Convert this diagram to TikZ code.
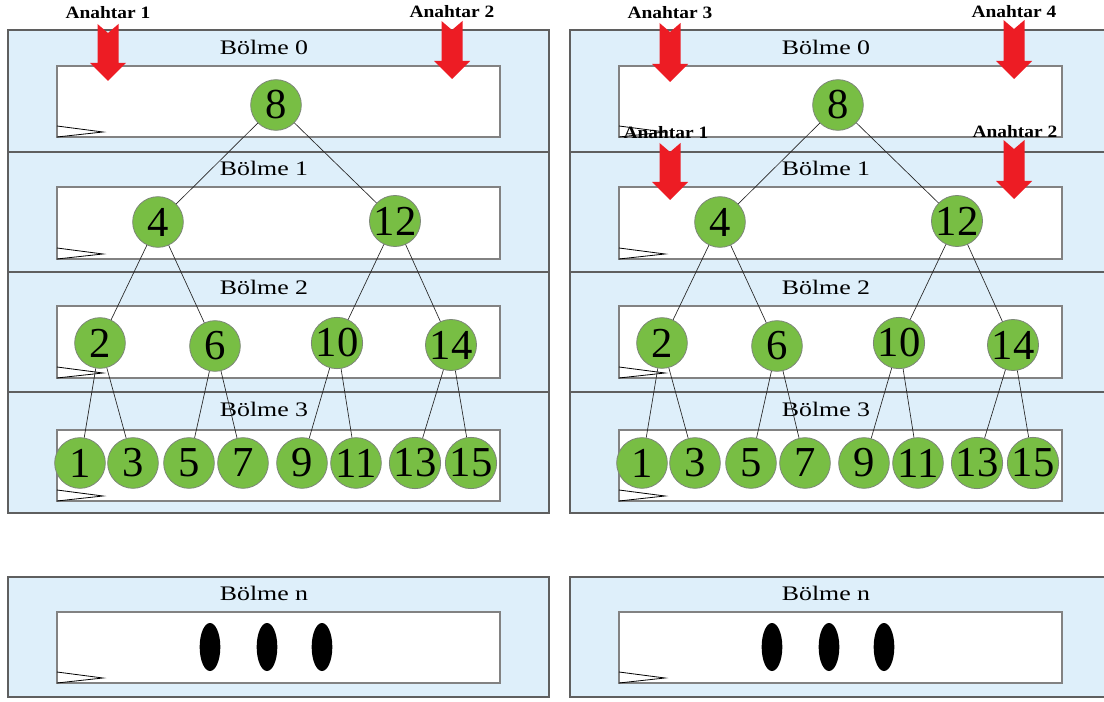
\documentclass[tikz,border=0pt]{standalone}
\usepackage{fontspec}
\setmainfont{Liberation Serif}
\newfontfamily\titlefont[FakeStretch=1.25]{Liberation Serif}
\newfontfamily\keyfont[FakeStretch=1.12]{Liberation Serif}
\usetikzlibrary{shapes.geometric}
\definecolor{panelfill}{RGB}{222,239,250}
\definecolor{panelborder}{RGB}{95,95,95}
\definecolor{innerborder}{RGB}{130,130,130}
\definecolor{numgreen}{RGB}{120,190,68}
\definecolor{numborder}{RGB}{125,135,120}
\definecolor{keyred}{RGB}{237,28,36}
\tikzset{
  panelbox/.style={draw=panelborder, fill=panelfill, line width=1pt},
  innerbox/.style={draw=innerborder, fill=white, line width=0.9pt},
  num/.style={circle, draw=numborder, fill=numgreen, line width=0.6pt, minimum size=38pt, inner sep=0pt, font=\fontsize{32}{34}\selectfont},
  titletext/.style={font=\titlefont\fontsize{15.5}{17}\selectfont, inner sep=0pt},
  keylabel/.style={font=\keyfont\bfseries\fontsize{13}{15}\selectfont, inner sep=0pt},
  edge/.style={draw=black!85, line width=0.5pt},
  marker/.style={draw=black, line width=0.6pt},
  dotmark/.style={ellipse, fill=black, minimum width=15.5pt, minimum height=36pt, inner sep=0pt},
}
\newcommand{\cornermark}[1]{\draw[marker] (57,{#1-11}) -- (103,{#1-5}) -- (57,#1);}
\newcommand{\keyarrow}[3]{\fill[keyred] ({#1-10.5},#2) -- (#1,{#2+9}) -- ({#1+10.5},#2) -- ({#1+10.5},{#3-18}) -- ({#1+18},{#3-18}) -- (#1,#3) -- ({#1-18},{#3-18}) -- ({#1-10.5},{#3-18}) -- cycle;}
\newcommand{\treepanel}{%
  \foreach \t/\b in {30/152,152/272,272/392,392/513,577/697}
    \path[panelbox] (8,\t) rectangle (549,\b);
  \foreach \t/\b in {66/137,187/259,306/378,430/501,612/683}
    {\path[innerbox] (57,\t) rectangle (500,\b); \cornermark{\b}}
  \node[titletext] (t0) at (264,47) {Bölme 0};
  \node[titletext] (t1) at (264,168) {Bölme 1};
  \node[titletext] (t2) at (264,287) {Bölme 2};
  \node[titletext] (t3) at (264,409) {Bölme 3};
  \node[titletext] (tn) at (264,593) {Bölme n};
  \node[num] (n8) at (276,105) {8};
  \node[num] (n4) at (158,222) {4};
  \node[num] (n12) at (395,221) {12};
  \node[num] (n2) at (100,343) {2};
  \node[num] (n6) at (215,346) {6};
  \node[num] (n10) at (337,343) {10};
  \node[num] (n14) at (451,345) {14};
  \node[num] (n1) at (80,463) {1};
  \node[num] (n3) at (133,463) {3};
  \node[num] (n5) at (189,463) {5};
  \node[num] (n7) at (243,463) {7};
  \node[num] (n9) at (302,463) {9};
  \node[num] (n11) at (356,463) {11};
  \node[num] (n13) at (415,463) {13};
  \node[num] (n15) at (471,463) {15};
  \foreach \a/\b in {n8/n4,n8/n12,n4/n2,n4/n6,n12/n10,n12/n14,n2/n1,n2/n3,n6/n5,n6/n7,n10/n9,n10/n11,n14/n13,n14/n15}
    \draw[edge] (\a) -- (\b);
  \node[dotmark] (d1) at (210,647) {};
  \node[dotmark] (d2) at (267,647) {};
  \node[dotmark] (d3) at (322,647) {};
}
\begin{document}
\begin{tikzpicture}[x=0.75pt,y=-0.75pt]
  \useasboundingbox (0,0) rectangle (1104,702);
  \begin{scope}[name prefix=L-]
    \treepanel
  \end{scope}
  \begin{scope}[name prefix=R-, xshift=421.5pt]
    \treepanel
  \end{scope}
  % keys
  \keyarrow{108}{24}{81}
  \node[keylabel] (k1) at (108,13) {Anahtar 1};
  \keyarrow{452}{21}{79}
  \node[keylabel] (k2) at (452,12) {Anahtar 2};
  \keyarrow{670}{23}{82}
  \node[keylabel] (k3) at (670,13) {Anahtar 3};
  \keyarrow{1014}{20}{79}
  \node[keylabel] (k4) at (1014,12) {Anahtar 4};
  \keyarrow{670}{143}{200}
  \node[keylabel] (k1b) at (666,133) {Anahtar 1};
  \keyarrow{1014}{140}{199}
  \node[keylabel] (k2b) at (1015,132) {Anahtar 2};
\end{tikzpicture}
\end{document}
